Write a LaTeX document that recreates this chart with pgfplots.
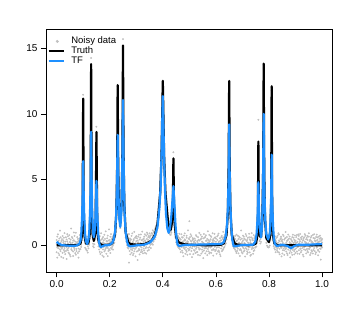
\documentclass[border=0pt]{standalone}
\usepackage{pgfplots}
\pgfplotsset{compat=1.18}
\usepackage{pgfplotstable}
\usepackage{fontspec}
\setmainfont{Liberation Sans}
\definecolor{ptgray}{RGB}{192,192,192}
\definecolor{tfblue}{RGB}{30,144,255}

\pgfplotstableread{
x a b c
0 0.41 -0.52 0.13
0.0025 -0.18 0.66 -0.93
0.005 0.27 -0.05 0.84
0.0075 -0.61 0.35 -0.22
0.01 0.08 -0.74 0.52
0.0125 1.12 -0.31 -0.07
0.015 -0.44 0.19 0.61
0.0175 0.33 -0.88 -0.15
0.02 -0.26 0.47 0.02
0.0225 0.71 -0.12 -0.57
0.025 -0.95 0.24 0.38
0.0275 0.14 0.58 -0.36
0.03 -0.49 -0.21 0.93
0.0325 0.29 -0.67 0.11
0.035 0.62 0.05 -0.42
0.0375 -0.13 -1.04 0.45
0.04 0.86 0.31 -0.28
0.0425 -0.37 0.16 0.69
0.045 0.03 -0.55 -0.19
0.0475 0.52 0.77 -0.63
0.05 -0.72 -0.09 0.25
0.0525 0.18 0.43 -0.84
0.055 -0.29 1.28 0.07
0.0575 0.64 -0.38 -0.11
0.06 -0.06 0.21 0.55
0.0625 -0.81 0.36 -0.47
0.065 0.39 -0.16 0.98
0.0675 -0.23 0.72 -0.34
0.07 0.11 -0.59 0.28
0.0725 0.95 0.04 -0.71
0.075 -0.44 -0.27 0.17
0.0775 0.26 0.63 -0.02
0.08 -0.58 0.12 0.49
0.0825 0.34 -0.93 -0.24
0.085 0.07 0.51 -0.45
0.0875 -0.31 0.44 0.78
0.09 0.61 -0.29 0.22
0.0925 0.05 0.73 -0.12
0.095 1.18 0.39 0.96
0.0975 2.64 1.87 2.41
0.1 11.45 10.82 11.01
0.1025 2.57 1.74 2.33
0.105 0.38 1.05 0.92
0.1075 0.74 -0.18 0.45
0.11 -0.27 0.53 0.09
0.1125 0.48 -0.36 0.22
0.115 -0.41 0.15 0.67
0.1175 0.31 -0.08 -0.55
0.12 0.62 -0.23 0.41
0.1225 0.05 0.83 0.29
0.125 1.24 0.51 0.97
0.1275 3.12 2.38 2.85
0.13 14.25 13.41 13.62
0.1325 2.44 3.09 2.71
0.135 0.61 1.33 0.84
0.1375 0.88 0.12 -0.06
0.14 -0.15 0.72 0.41
0.1425 0.95 0.08 0.36
0.145 0.47 1.19 0.62
0.1475 2.53 1.82 2.27
0.15 9.02 8.31 8.56
0.1525 1.79 2.49 2.04
0.155 1.21 0.44 0.93
0.1575 -0.08 0.68 0.21
0.16 0.57 -0.32 0.03
0.1625 -0.49 0.26 0.71
0.165 0.38 -0.14 -0.66
0.1675 -0.21 0.92 0.17
0.17 0.46 -0.53 -0.04
0.1725 -0.78 0.09 0.55
0.175 0.23 0.64 -0.31
0.1775 -0.12 -0.87 0.38
0.18 0.81 0.14 -0.46
0.1825 -0.35 0.49 0.06
0.185 0.12 -0.24 1.07
0.1875 -0.64 0.33 -0.17
0.19 0.54 -0.06 0.28
0.1925 -0.19 0.74 -0.82
0.195 0.37 -0.43 0.13
0.1975 -0.03 1.21 -0.29
0.2 0.41 -0.37 0.18
0.2025 -0.58 0.29 0.66
0.205 0.22 0.85 -0.19
0.2075 -0.26 0.47 0.04
0.21 0.63 -0.11 0.38
0.2125 0.02 0.69 -0.33
0.215 0.78 0.13 0.52
0.2175 0.19 0.94 0.47
0.22 1.26 0.58 0.77
0.2225 1.02 1.71 1.45
0.225 2.81 2.12 2.59
0.2275 5.38 4.71 5.22
0.23 12.11 11.86 12.08
0.2325 4.84 5.49 5.03
0.235 3.14 2.41 2.88
0.2375 1.52 2.28 1.96
0.24 2.05 1.31 1.58
0.2425 1.71 2.44 2.21
0.245 3.63 2.94 3.41
0.2475 6.02 6.81 6.29
0.25 15.68 14.83 15.05
0.2525 6.66 5.89 6.41
0.255 2.68 3.42 2.96
0.2575 2.04 1.27 1.79
0.26 0.61 1.38 1.12
0.2625 1.03 0.27 0.49
0.265 0.02 0.83 0.55
0.2675 0.71 -0.16 0.34
0.27 -0.24 0.58 0.12
0.2725 0.49 -1.31 0.86
0.275 -0.43 0.27 -0.05
0.2775 0.36 -0.68 0.51
0.28 -0.12 0.44 -0.29
0.2825 0.72 0.07 -0.56
0.285 -0.37 0.91 0.19
0.2875 0.25 -0.21 -0.74
0.29 -0.63 0.38 0.46
0.2925 0.11 -0.45 1.02
0.295 0.57 -0.09 -0.27
0.2975 -0.84 0.63 0.15
0.3 0.32 -0.18 0.71
0.3025 -0.47 0.54 -0.06
0.305 0.19 -1.12 0.37
0.3075 0.66 0.23 -0.41
0.31 -0.28 0.81 0.04
0.3125 0.45 -0.35 -0.69
0.315 -0.09 0.17 0.58
0.3175 0.83 -0.52 0.12
0.32 -0.34 0.39 -0.16
0.3225 0.14 1.05 -0.48
0.325 -0.61 0.02 0.43
0.3275 0.52 -0.24 0.28
0.33 -0.07 0.66 -0.39
0.3325 0.38 -0.57 0.84
0.335 -0.22 0.31 0.09
0.3375 0.74 -0.13 -0.63
0.34 0.06 0.49 0.97
0.3425 -0.41 0.85 0.22
0.345 0.63 -0.18 0.41
0.3475 0.27 0.72 -0.36
0.35 -0.14 0.58 0.91
0.3525 0.69 0.04 0.33
0.355 0.08 0.76 -0.21
0.3575 0.93 0.24 0.51
0.36 0.12 0.87 0.39
0.3625 0.71 0.05 1.14
0.365 0.29 0.98 0.63
0.3675 1.05 0.44 0.78
0.37 0.47 1.23 0.92
0.3725 1.38 0.62 1.07
0.375 0.79 1.52 1.24
0.3775 1.74 1.01 1.45
0.38 1.28 2.03 1.71
0.3825 2.41 1.62 2.12
0.385 2.13 2.88 2.36
0.3875 3.52 2.74 3.21
0.39 3.61 4.37 4.02
0.3925 5.49 4.78 5.27
0.395 6.38 7.12 6.87
0.3975 9.47 8.71 9.19
0.4 12.12 12.42 12.33
0.4025 9.41 8.76 9.15
0.405 7.14 6.42 6.88
0.4075 4.79 5.52 5.07
0.41 4.36 3.63 4.11
0.4125 2.78 3.51 3.22
0.415 2.87 2.16 2.63
0.4175 1.68 2.42 2.14
0.42 2.09 1.35 1.81
0.4225 1.07 1.83 1.52
0.425 1.66 0.89 1.38
0.4275 0.81 1.54 1.26
0.43 1.58 0.79 1.05
0.4325 0.96 1.72 1.41
0.435 2.18 1.43 1.88
0.4375 2.67 3.41 3.12
0.44 7.08 6.27 6.51
0.4425 3.28 2.54 2.99
0.445 1.19 1.93 1.62
0.4475 1.36 0.57 1.02
0.45 0.24 1.01 0.71
0.4525 0.88 0.09 0.53
0.455 -0.04 0.74 0.42
0.4575 0.69 -0.12 0.33
0.46 -0.19 0.61 0.27
0.4625 0.55 -0.23 0.88
0.465 -0.31 0.49 0.12
0.4675 0.43 -0.06 -0.52
0.47 -0.12 0.84 0.21
0.4725 0.62 -0.41 0.05
0.475 -0.56 0.28 0.59
0.4775 0.17 -0.19 -0.83
0.48 0.74 0.35 -0.14
0.4825 -0.27 0.91 0.46
0.485 0.39 -0.64 0.08
0.4875 -0.15 0.22 -0.37
0.49 0.58 -0.49 0.73
0.4925 -0.72 0.16 0.31
0.495 0.26 1.14 -0.25
0.4975 -0.38 -0.02 0.52
0.5 0.47 -0.31 1.84
0.5025 -0.18 0.63 -0.66
0.505 0.84 -0.07 0.35
0.5075 -0.43 0.29 0.71
0.51 0.11 -0.89 -0.22
0.5125 0.56 0.41 -0.08
0.515 -0.67 0.13 0.48
0.5175 0.24 -0.36 0.31
0.52 -0.09 0.52 -0.41
0.5225 0.38 -0.58 0.17
0.525 -0.26 0.77 0.04
0.5275 0.69 -0.14 -0.53
0.53 -0.51 0.33 0.26
0.5325 0.15 -0.72 0.62
0.535 0.42 0.08 -0.19
0.5375 -0.33 0.95 0.36
0.54 0.07 -0.27 -0.76
0.5425 0.81 0.44 0.12
0.545 -0.62 -0.05 0.53
0.5475 0.28 0.67 -0.32
0.55 -0.14 -0.48 0.21
0.5525 0.53 0.19 -0.97
0.555 -0.39 0.86 0.03
0.5575 0.12 -0.23 0.58
0.56 0.65 -0.61 -0.11
0.5625 -0.21 0.34 0.77
0.565 0.37 -0.08 -0.45
0.5675 -0.74 0.49 0.14
0.57 0.22 1.07 -0.28
0.5725 -0.46 -0.15 0.41
0.575 0.79 0.26 -0.62
0.5775 -0.03 -0.54 0.33
0.58 0.46 0.71 -0.17
0.5825 -0.57 0.05 0.64
0.585 0.18 -0.36 -0.09
0.5875 0.92 0.37 0.23
0.59 -0.28 -0.79 0.48
0.5925 0.34 0.16 -0.34
0.595 -0.11 0.58 0.87
0.5975 0.61 -0.43 -0.06
0.6 -0.35 0.27 0.52
0.6025 0.13 -0.64 -0.18
0.605 0.68 0.41 0.02
0.6075 -0.47 -0.12 0.76
0.61 0.25 0.89 -0.39
0.6125 -0.16 -0.51 0.31
0.615 0.54 0.07 -0.68
0.6175 -0.82 0.36 0.19
0.62 0.39 -0.24 0.63
0.6225 -0.08 0.72 -0.44
0.625 0.57 -0.37 0.21
0.6275 -0.29 0.46 1.03
0.63 0.61 -0.18 0.34
0.6325 -0.11 0.79 0.27
0.635 0.74 0.05 0.48
0.6375 0.16 0.93 0.61
0.64 1.19 0.44 0.87
0.6425 0.97 1.71 1.42
0.645 2.86 2.11 2.58
0.6475 4.76 5.49 5.21
0.65 12.21 12.44 12.38
0.6525 5.51 4.79 5.03
0.655 2.08 2.84 2.39
0.6575 1.71 0.95 1.26
0.66 0.41 1.16 0.89
0.6625 0.87 0.12 0.54
0.665 -0.06 0.71 0.38
0.6675 0.63 -0.19 0.29
0.67 -0.24 0.54 0.08
0.6725 0.49 -0.33 0.72
0.675 -0.45 0.26 -0.12
0.6775 0.32 0.81 -0.58
0.68 -0.17 -0.42 0.37
0.6825 0.73 0.11 -0.26
0.685 -0.61 0.48 0.15
0.6875 0.21 -0.07 0.66
0.69 -0.34 0.59 -0.81
0.6925 0.44 -0.28 0.09
0.695 0.06 1.13 -0.37
0.6975 -0.52 0.17 0.51
0.7 0.28 -0.61 -0.04
0.7025 -0.19 0.39 0.74
0.705 0.67 -0.23 -0.47
0.7075 -0.38 0.52 0.18
0.71 0.12 -0.85 0.43
0.7125 0.85 0.06 -0.21
0.715 -0.27 0.71 0.34
0.7175 0.41 -0.45 -0.66
0.72 -0.56 0.23 0.57
0.7225 0.19 -0.12 -0.31
0.725 0.62 0.88 0.07
0.7275 -0.14 -0.53 0.46
0.73 0.36 0.24 -0.79
0.7325 -0.71 0.61 0.13
0.735 0.08 -0.29 0.93
0.7375 0.53 0.42 -0.16
0.74 -0.22 -0.64 0.38
0.7425 0.77 0.15 -0.43
0.745 -0.37 0.56 0.21
0.7475 0.31 -0.18 0.69
0.75 -0.11 0.62 0.28
0.7525 0.66 -0.09 0.37
0.755 0.19 0.97 0.61
0.7575 1.98 1.24 1.73
0.76 9.55 7.56 7.77
0.7625 1.31 2.04 1.59
0.765 1.07 0.33 0.78
0.7675 0.14 0.88 0.47
0.77 1.02 0.27 0.71
0.7725 0.66 1.41 1.12
0.775 2.38 1.63 2.09
0.7775 4.31 5.04 4.58
0.78 13.75 13.49 13.71
0.7825 5.02 4.29 4.73
0.785 1.64 2.37 1.91
0.7875 1.36 0.61 1.08
0.79 0.19 0.93 0.47
0.7925 0.72 -0.03 0.41
0.795 -0.12 0.63 0.29
0.7975 0.58 -0.16 0.84
0.8 -0.14 0.61 0.33
0.8025 0.74 -0.02 0.45
0.805 0.43 1.17 0.88
0.8075 2.79 2.06 2.51
0.81 12.01 11.78 12.02
0.8125 2.04 2.77 2.36
0.815 1.14 0.39 0.82
0.8175 -0.06 0.71 0.27
0.82 0.53 -0.21 0.09
0.8225 -0.33 0.46 0.68
0.825 0.39 -0.52 -0.08
0.8275 -0.17 0.24 0.57
0.83 0.62 -0.36 0.14
0.8325 -0.49 0.73 -0.23
0.835 0.21 -0.11 0.92
0.8375 0.84 0.37 -0.54
0.84 -0.26 -0.68 0.31
0.8425 0.47 0.12 -0.05
0.845 -0.13 0.55 0.66
0.8475 0.35 -0.84 -0.19
0.85 -0.62 0.28 0.44
0.8525 0.18 0.81 -0.37
0.855 0.71 -0.24 0.06
0.8575 -0.38 0.43 -0.72
0.86 0.09 -0.15 0.53
0.8625 0.56 1.02 -0.28
0.865 -0.21 -0.47 0.19
0.8675 0.33 0.64 -0.61
0.87 -0.74 0.07 0.38
0.8725 0.45 -0.33 0.82
0.875 -0.08 0.51 -0.16
0.8775 0.67 -0.59 0.24
0.88 -0.42 0.16 -0.91
0.8825 0.13 -0.27 0.48
0.885 -0.55 0.39 -0.12
0.8875 0.29 -0.73 0.62
0.89 0.81 0.04 -0.35
0.8925 -0.18 0.58 0.17
0.895 0.42 -0.44 -0.69
0.8975 -0.31 0.26 0.75
0.9 0.14 -0.57 0.36
0.9025 0.63 0.21 -0.22
0.905 -0.46 0.78 0.05
0.9075 0.27 -0.14 -0.63
0.91 -0.09 0.49 0.83
0.9125 0.72 -0.38 0.11
0.915 -0.65 0.17 0.44
0.9175 0.31 0.86 -0.27
0.92 -0.23 -0.52 0.58
0.9225 0.48 0.06 -0.41
0.925 0.02 0.67 0.24
0.9275 -0.71 -0.19 0.37
0.93 0.39 0.53 -0.84
0.9325 -0.12 -0.31 0.62
0.935 0.85 0.28 -0.07
0.9375 -0.37 0.74 0.19
0.94 0.21 -0.61 0.46
0.9425 0.57 0.13 -0.29
0.945 -0.44 0.41 0.71
0.9475 0.16 -0.26 -0.53
0.95 0.66 0.92 0.08
0.9525 -0.29 -0.07 0.34
0.955 0.43 -0.73 -0.16
0.9575 -0.58 0.35 0.59
0.96 0.24 0.71 -0.38
0.9625 -0.06 -0.45 0.27
0.965 0.79 0.19 -0.62
0.9675 -0.35 0.56 0.13
0.97 0.12 -0.21 0.85
0.9725 0.53 0.38 -0.44
0.975 -0.67 0.04 0.29
0.9775 0.36 -0.54 0.64
0.98 -0.18 0.81 -0.11
0.9825 0.61 0.23 0.42
0.985 -0.41 -0.33 -0.76
0.9875 0.28 0.66 0.18
0.99 0.09 -0.49 0.51
0.9925 0.74 0.32 -0.24
0.995 -0.27 0.57 -1.08
0.9975 0.45 -0.12 0.36
1 -0.16 0.48 0.21
}\noisy

\pgfplotstableread{
x y
0 0.00
0.05 0.00
0.08 0.02
0.09 0.14
0.095 0.70
0.098 2.91
0.1 11.16
0.102 2.91
0.105 0.71
0.11 0.16
0.115 0.10
0.12 0.19
0.125 0.88
0.128 3.60
0.13 13.78
0.132 3.61
0.135 0.92
0.14 0.34
0.145 0.81
0.147 1.74
0.15 8.62
0.153 1.71
0.156 0.55
0.16 0.18
0.17 0.03
0.18 0.02
0.2 0.06
0.21 0.17
0.22 0.81
0.225 2.47
0.228 5.93
0.23 12.19
0.232 6.03
0.235 2.76
0.24 1.69
0.245 3.28
0.248 7.45
0.25 15.20
0.252 7.37
0.255 3.05
0.26 0.99
0.27 0.21
0.28 0.09
0.3 0.05
0.33 0.10
0.35 0.25
0.36 0.42
0.37 0.78
0.38 1.62
0.39 3.96
0.395 6.75
0.4 12.51
0.405 6.76
0.41 3.98
0.42 1.70
0.43 1.17
0.435 1.79
0.438 3.46
0.44 6.62
0.442 3.37
0.445 1.55
0.45 0.63
0.46 0.23
0.48 0.08
0.52 0.02
0.58 0.01
0.62 0.05
0.63 0.16
0.64 0.78
0.645 2.47
0.648 6.03
0.65 12.50
0.652 6.03
0.655 2.47
0.66 0.78
0.67 0.16
0.68 0.05
0.72 0.01
0.74 0.03
0.75 0.13
0.755 0.54
0.758 2.10
0.76 7.89
0.762 2.15
0.765 0.69
0.77 0.64
0.775 2.01
0.778 5.67
0.78 13.82
0.782 5.67
0.785 2.00
0.79 0.56
0.8 0.24
0.805 0.80
0.808 3.17
0.81 12.10
0.812 3.16
0.815 0.77
0.82 0.16
0.83 0.02
0.85 0.01
0.9 0.00
1 0.00
}\truth

\pgfplotstableread{
x y
0 0.27
0.01 0.10
0.02 0.02
0.04 -0.02
0.06 -0.03
0.075 -0.02
0.085 0.10
0.09 0.35
0.093 0.9
0.096 2.2
0.098 3.9
0.1 6.4
0.102 3.9
0.104 2.2
0.107 0.9
0.11 0.35
0.115 0.10
0.12 0.45
0.123 1.0
0.126 2.6
0.128 4.8
0.13 8.64
0.132 4.9
0.134 2.4
0.137 1.0
0.14 0.62
0.143 1.0
0.146 2.0
0.148 3.4
0.15 4.9
0.152 3.4
0.154 2.0
0.157 0.8
0.16 0.2
0.165 -0.12
0.17 -0.10
0.18 0.0
0.19 0.0
0.2 0.05
0.21 0.2
0.215 0.45
0.22 1.0
0.224 2.2
0.227 4.2
0.23 8.4
0.233 4.0
0.236 2.0
0.24 1.4
0.244 2.5
0.247 5.5
0.25 11.05
0.253 5.5
0.256 2.5
0.26 1.0
0.265 0.3
0.27 0.0
0.275 -0.08
0.285 -0.05
0.3 0.0
0.33 0.05
0.35 0.2
0.36 0.4
0.37 0.7
0.38 1.4
0.387 2.8
0.392 4.5
0.396 7.5
0.4 11.35
0.404 7.5
0.408 4.3
0.412 2.4
0.417 1.3
0.422 0.95
0.427 1.3
0.432 2.2
0.436 3.3
0.44 4.5
0.444 3.0
0.448 1.5
0.452 0.5
0.456 0.05
0.462 -0.05
0.48 0.02
0.52 0.05
0.58 0.08
0.62 0.1
0.63 0.25
0.637 0.7
0.642 1.6
0.645 2.8
0.648 5.2
0.65 9.2
0.652 5.2
0.655 2.8
0.658 1.4
0.662 0.4
0.667 -0.08
0.675 -0.05
0.7 0.02
0.74 0.05
0.748 0.25
0.753 0.8
0.756 1.7
0.758 2.9
0.76 4.8
0.762 3.0
0.765 1.4
0.77 0.6
0.774 1.5
0.777 3.8
0.78 10.0
0.783 4.0
0.786 1.9
0.79 0.85
0.797 0.45
0.803 0.9
0.806 2.0
0.808 3.6
0.81 6.9
0.812 3.6
0.815 1.6
0.818 0.6
0.822 0.1
0.83 -0.05
0.85 0.05
0.87 -0.05
0.883 -0.22
0.895 -0.05
0.91 0.05
0.95 0.05
1 0.1
}\tf

\begin{document}
\begin{tikzpicture}
\useasboundingbox (0pt,0pt) rectangle (347pt,316pt);
\begin{axis}[
  at={(46pt,43.7pt)}, anchor=south west,
  scale only axis, width=286.7pt, height=243pt,
  xmin=-0.04, xmax=1.04, ymin=-2.05, ymax=16.43,
  clip marker paths=true,
  xtick={0,0.2,0.4,0.6,0.8,1.0},
  ytick={0,5,10,15},
  tick pos=left,
  tick align=outside,
  major tick length=5pt,
  every tick/.style={black, line width=0.7pt},
  axis line style={black, line width=0.8pt},
  xticklabel style={/pgf/number format/.cd, fixed, fixed zerofill, precision=1},
  /pgf/number format/assume math mode=true,
  tick label style={font=\fontsize{10}{12}\selectfont},
  legend style={at={(axis description cs:0,1)}, anchor=north west,
    xshift=1.3pt, yshift=-7pt, draw=none, fill=none, inner sep=0pt,
    font=\fontsize{9.5}{10}\selectfont, row sep=0pt,
    nodes={inner sep=0.6pt, text height=6.8pt, text depth=1.9pt},
    /tikz/every odd column/.append style={column sep=6pt},
    cells={anchor=west}},
  legend cell align=left,
]
\addplot[ptgray, only marks, mark=*, mark size=0.72pt, mark options={draw=none, fill=ptgray},
  legend image code/.code={\fill[ptgray] (8.7pt,0pt) circle (1.3pt);}] table[x=x,y=a]{\noisy};
\addlegendentry{Noisy data}
\addplot[ptgray, only marks, mark=*, mark size=0.72pt, mark options={draw=none, fill=ptgray}, forget plot] table[x=x,y=b]{\noisy};
\addplot[ptgray, only marks, mark=*, mark size=0.72pt, mark options={draw=none, fill=ptgray}, forget plot] table[x=x,y=c]{\noisy};
\addplot[black, line width=2.2pt, line join=round, no markers,
  legend image code/.code={\draw[black, line width=2.2pt] (0pt,0pt) -- (15pt,0pt);}] table[x=x,y=y]{\truth};
\addlegendentry{Truth}
\addplot[tfblue, line width=2.2pt, line join=round, no markers,
  legend image code/.code={\draw[tfblue, line width=2.2pt] (0pt,0pt) -- (15pt,0pt);}] table[x=x,y=y]{\tf};
\addlegendentry{TF}
\end{axis}
\end{tikzpicture}
\end{document}
